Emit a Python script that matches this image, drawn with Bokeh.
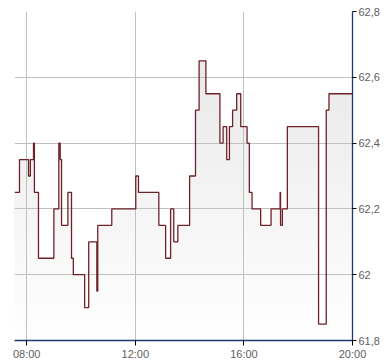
from bokeh.plotting import figure
from bokeh.embed import file_html
from bokeh.resources import INLINE
from bokeh.models import FixedTicker, Range1d

# ---- data ----
times = ["07:33", "07:44", "08:04", "08:08", "08:15", "08:17", "08:26", "09:00", "09:11", "09:14",
         "09:17", "09:31", "09:39", "09:43", "10:08", "10:17", "10:35", "10:37", "11:08", "12:01",
         "12:07", "12:52", "13:07", "13:18", "13:25", "13:34", "14:00", "14:13", "14:21", "14:36",
         "15:07", "15:14", "15:22", "15:28", "15:35", "15:44", "15:53", "16:07", "16:12", "16:18",
         "16:37", "17:00", "17:20", "17:21", "17:25", "17:36", "18:45", "19:02", "19:08", "20:00"]
prices = [62.25, 62.35, 62.30, 62.35, 62.40, 62.25, 62.05, 62.20, 62.40, 62.35,
          62.15, 62.25, 62.05, 62.00, 61.90, 62.10, 61.95, 62.15, 62.20, 62.30,
          62.25, 62.15, 62.05, 62.20, 62.10, 62.15, 62.30, 62.50, 62.65, 62.55,
          62.40, 62.45, 62.35, 62.45, 62.50, 62.55, 62.45, 62.40, 62.25, 62.20,
          62.15, 62.20, 62.25, 62.15, 62.20, 62.45, 61.85, 62.50, 62.55, 62.55]

x_ticks = [8, 12, 16, 20]
x_labels = ["08:00", "12:00", "16:00", "20:00"]
y_ticks = [61.8, 62.0, 62.2, 62.4, 62.6, 62.8]
y_labels = ["61,8", "62", "62,2", "62,4", "62,6", "62,8"]
y_min, y_max = 61.8, 62.8


def to_hours(s):
    h, m = s.split(":")
    return int(h) + int(m) / 60.0


xs = [to_hours(t) for t in times]

p = figure(width=390, height=364, output_backend="svg", toolbar_location=None,
           x_range=Range1d(xs[0], xs[-1]), y_range=Range1d(y_min, y_max),
           y_axis_location="right", x_axis_location="below")
p.min_border_left = 14
p.min_border_right = 38
p.min_border_top = 11
p.min_border_bottom = 24
p.outline_line_color = None
p.background_fill_color = "white"
p.border_fill_color = "white"

# gradient fill: stacked opaque layers, darker toward the top
n_layers = 40
step = (y_max - y_min) / n_layers
for k in range(n_layers):
    lo = y_min + k * step
    frac = (k + 0.5) / n_layers
    g = int(round(255 - 26 * frac))
    col = "#%02x%02x%02x" % (g, g, g)
    top = [max(v, lo) for v in prices]
    r = p.varea_step(x=xs, y1=[lo] * len(xs), y2=top, step_mode="after",
                     fill_color=col, fill_alpha=1.0)
    r.level = "image"

p.step(xs, prices, mode="after", line_color="#6e2129", line_width=1.3)

# grids
p.xgrid.ticker = FixedTicker(ticks=[xs[0]] + x_ticks[:-1])
p.ygrid.ticker = FixedTicker(ticks=y_ticks[1:])
for g in (p.xgrid, p.ygrid):
    g.grid_line_color = "#c0c0c0"
    g.grid_line_width = 1

# axes
xa = p.xaxis[0]
xa.ticker = FixedTicker(ticks=x_ticks)
xa.major_label_overrides = {t: l for t, l in zip(x_ticks, x_labels)}
xa.major_tick_out = 5
xa.major_tick_in = 0
xa.major_label_standoff = 2

ya = p.yaxis[0]
ya.ticker = FixedTicker(ticks=y_ticks)
ya.major_label_overrides = {t: l for t, l in zip(y_ticks, y_labels)}
ya.major_tick_out = 4
ya.major_tick_in = 0
ya.major_label_standoff = 2

for a in (xa, ya):
    a.axis_line_color = "#1d3a6c"
    a.axis_line_width = 1.3
    a.major_tick_line_color = "black"
    a.minor_tick_line_color = None
    a.major_label_text_font = "Liberation Sans"
    a.major_label_text_font_size = "11px"
    a.major_label_text_color = "#606060"

open("out.html", "w").write(file_html(p, INLINE))
